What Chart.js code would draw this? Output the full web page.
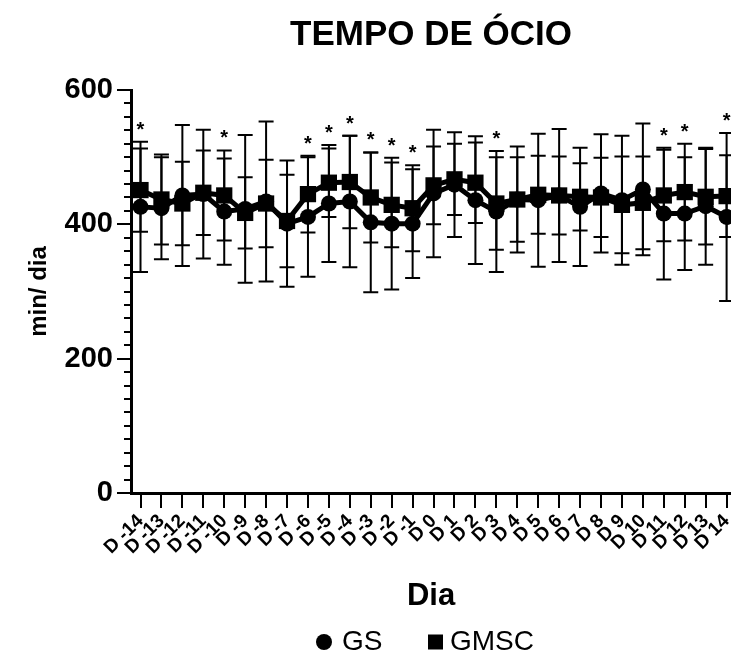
<!DOCTYPE html>
<html>
<head>
<meta charset="utf-8">
<script src="https://cdn.jsdelivr.net/npm/chart.js@4.4.1/dist/chart.umd.min.js"></script>
<style>
  html, body { margin: 0; padding: 0; background: #fff; }
  #wrap { width: 731px; height: 657px; position: relative; }
</style>
</head>
<body>
<div id="wrap"><canvas id="c" width="731" height="657"></canvas></div>
<script>
const days = ['D -14','D -13','D -12','D -11','D -10','D -9','D -8','D -7','D -6','D -5','D -4','D -3','D -2','D -1','D 0','D 1','D 2','D 3','D 4','D 5','D 6','D 7','D 8','D 9','D 10','D 11','D 12','D 13','D 14'];
const gsMean = [426,424,443,445,419,423,434,401,411,431,434,403,401,401,446,459,436,419,437,436,443,426,446,436,452,416,416,427,411];
const gsSD   = [97,76,105,96,79,110,119,94,89,87,98,104,98,81,95,78,95,90,79,99,99,88,88,96,98,98,84,87,125];
const gmscMean = [451,437,431,447,443,417,431,405,445,462,463,440,429,424,458,467,462,431,437,444,443,441,440,429,432,443,448,441,442];
const gmscSD   = [62,67,62,63,67,53,65,69,57,51,69,67,63,64,58,53,60,69,63,58,58,50,59,72,69,68,72,71,61];
const significant = [1,0,0,0,1,0,0,0,1,1,1,1,1,1,0,0,0,1,0,0,0,0,0,0,0,1,1,0,1];
const yTicks = [0,200,400,600];
const seriesNames = ['GS','GMSC'];

const FONT = '"Liberation Sans", Arial, Helvetica, sans-serif';

const extras = {
  id: 'extras',
  beforeDatasetsDraw(chart) {
    const {ctx, scales: {x, y}} = chart;
    ctx.save();
    ctx.strokeStyle = '#000';
    ctx.lineWidth = 2;
    [[gsMean, gsSD], [gmscMean, gmscSD]].forEach(([m, s]) => {
      m.forEach((v, i) => {
        const px = x.getPixelForValue(i);
        const top = y.getPixelForValue(v + s[i]);
        const bot = y.getPixelForValue(v - s[i]);
        ctx.beginPath();
        ctx.moveTo(px, top); ctx.lineTo(px, bot);
        ctx.moveTo(px - 7.5, top); ctx.lineTo(px + 7.5, top);
        ctx.moveTo(px - 7.5, bot); ctx.lineTo(px + 7.5, bot);
        ctx.stroke();
      });
    });
    ctx.restore();
  },
  afterDraw(chart) {
    const {ctx, scales: {x, y}, chartArea} = chart;
    ctx.save();
    ctx.fillStyle = '#000';
    ctx.font = 'bold 20px ' + FONT;
    ctx.textAlign = 'center';
    ctx.textBaseline = 'alphabetic';
    significant.forEach((s, i) => {
      if (!s) return;
      const topVal = Math.max(gsMean[i] + gsSD[i], gmscMean[i] + gmscSD[i]);
      const py = y.getPixelForValue(topVal);
      ctx.fillText('*', x.getPixelForValue(i), py - 6);
    });
    ctx.strokeStyle = '#000';
    ctx.lineWidth = 2;
    ctx.beginPath();
    for (let v = 20; v < 600; v += 20) {
      if (v % 200 === 0) continue;
      const py = Math.round(y.getPixelForValue(v));
      ctx.moveTo(chartArea.left - 7, py);
      ctx.lineTo(chartArea.left, py);
    }
    ctx.stroke();
    ctx.font = 'bold 35px ' + FONT;
    ctx.textAlign = 'center';
    ctx.textBaseline = 'middle';
    ctx.fillText('TEMPO DE ÓCIO', (chartArea.left + chartArea.right) / 2, 35);
    const ly = 642;
    ctx.beginPath();
    ctx.arc(324, ly, 8, 0, Math.PI * 2);
    ctx.fill();
    ctx.fillRect(428, ly - 7.5, 15, 15);
    ctx.font = '28px ' + FONT;
    ctx.textAlign = 'left';
    ctx.fillText(seriesNames[0], 342, ly);
    ctx.fillText(seriesNames[1], 450, ly);
    ctx.restore();
  }
};

new Chart(document.getElementById('c'), {
  type: 'line',
  data: {
    datasets: [
      {
        label: seriesNames[0],
        data: gsMean.map((v, i) => ({x: i, y: v})),
        borderColor: '#000', backgroundColor: '#000',
        borderWidth: 5, pointStyle: 'circle', pointRadius: 8,
        pointBackgroundColor: '#000', pointBorderColor: '#000', pointBorderWidth: 0,
        tension: 0
      },
      {
        label: seriesNames[1],
        data: gmscMean.map((v, i) => ({x: i, y: v})),
        borderColor: '#000', backgroundColor: '#000',
        borderWidth: 5, pointStyle: 'rect', pointRadius: 11.5,
        pointBackgroundColor: '#000', pointBorderColor: '#000', pointBorderWidth: 0,
        tension: 0
      }
    ]
  },
  options: {
    responsive: false,
    animation: false,
    layout: { autoPadding: false, padding: { left: 0, right: 0, top: 90, bottom: 42 } },
    plugins: { legend: { display: false }, title: { display: false }, tooltip: { enabled: false } },
    scales: {
      x: {
        type: 'linear',
        min: -0.454, max: 28.21,
        afterBuildTicks: (s) => { s.ticks = days.map((_, i) => ({value: i})); },
        afterFit: (s) => { s.height = 657 - 42 - 493; s.paddingLeft = 0; s.paddingRight = 0; },
        ticks: {
          autoSkip: false, maxRotation: 45, minRotation: 45,
          color: '#000', padding: 2,
          font: { family: FONT, size: 19, weight: 'bold' },
          callback: (v) => days[v]
        },
        grid: { drawOnChartArea: false, drawTicks: true, tickLength: 15, color: '#000', lineWidth: 2 },
        border: { display: true, color: '#000', width: 3 },
        title: { display: true, text: 'Dia', color: '#000', padding: 0,
                 font: { family: FONT, size: 31, weight: 'bold' } }
      },
      y: {
        min: 0, max: 600,
        afterBuildTicks: (s) => { s.ticks = yTicks.map(v => ({value: v})); },
        afterFit: (s) => { s.width = 131; },
        ticks: { color: '#000', padding: 4, font: { family: FONT, size: 29, weight: 'bold' } },
        grid: { drawOnChartArea: false, drawTicks: true, tickLength: 14, color: '#000', lineWidth: 2 },
        border: { display: true, color: '#000', width: 3 },
        title: { display: true, text: 'min/ dia', color: '#000', padding: { top: 25, bottom: 0 },
                 font: { family: FONT, size: 24, weight: 'bold' } }
      }
    }
  },
  plugins: [extras]
});
</script>
</body>
</html>
